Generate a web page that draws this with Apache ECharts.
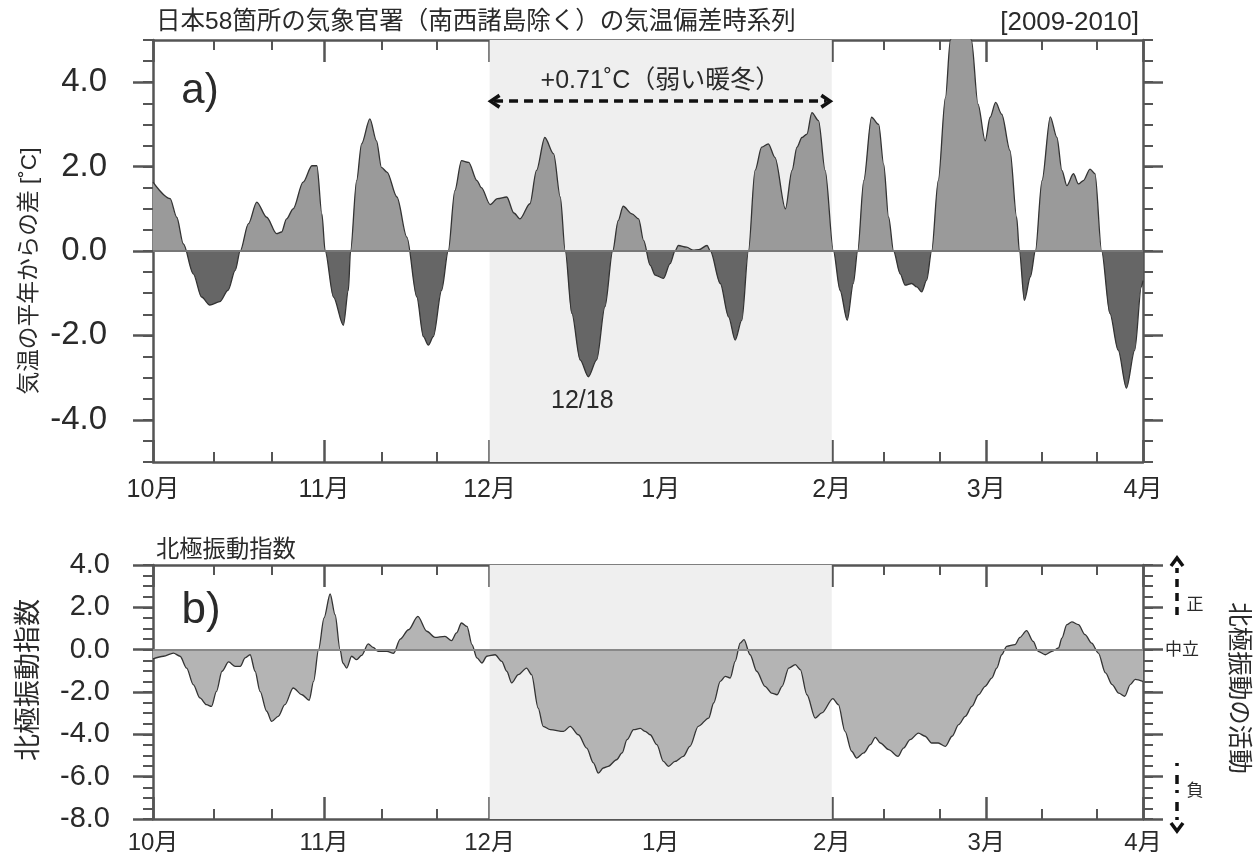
<!DOCTYPE html>
<html><head><meta charset="utf-8">
<script src="https://cdn.jsdelivr.net/npm/echarts@6/dist/echarts.min.js"></script>
<style>html,body{margin:0;padding:0;background:#fff}#c{width:1258px;height:861px}</style>
</head><body><div id="c"></div>
<script>
// ---- axis labels / ticks ----
const monthLabels = ['10月','11月','12月','1月','2月','3月','4月'];
const monthTicks  = [0, 31, 61, 92, 123, 151, 179.4];           // day index from Oct 1
const minorTicks  = [11, 21.5, 41.5, 51.5, 72, 82.5, 103, 113, 132.5, 142.5, 161, 171];
const tempTicks   = [-4, -2, 0, 2, 4];
const aoTicks     = [-8, -6, -4, -2, 0, 2, 4];

// ---- a) temperature anomaly (day, °C) ----
const tempDays = [0,3.1,4.3,5.5,7.3,8.8,10.3,12.1,13.6,14.9,15.8,17.3,18.8,20.6,22.4,23.3,24.2,25.4,27.2,28.8,29.7,30.6,31.2,32.7,34.5,35.4,35.8,36.9,37.8,39.3,40.5,41.4,42.4,44.2,46.0,47.8,49.0,49.9,50.8,52.3,53.5,54.7,55.9,57.2,58.7,59.5,61.1,62.4,64.1,65.4,66.5,68.3,69.5,71.0,72.6,73.8,74.7,75.9,77.4,78.9,80.4,81.9,83.3,84.3,85.2,86.8,88.0,88.9,90.1,91.0,92.5,93.7,94.6,95.2,96.7,97.9,98.9,100.4,101.0,102.8,104.3,105.5,106.7,107.9,109.1,110.3,111.5,112.7,114.6,115.8,116.7,117.6,118.5,119.4,120.6,121.8,123.3,124.5,125.8,126.9,127.7,128.8,130.2,131.5,132.4,133.3,134.2,135.4,136.3,137.5,138.4,139.3,140.2,141.1,142.3,143.6,144.5,145.8,147.2,148.3,149.5,150.8,151.7,152.7,153.8,155.3,156.5,157.0,157.9,159.0,159.9,161.1,162.6,163.8,164.7,165.6,166.8,167.7,168.6,169.8,170.7,171.9,173.4,174.9,176.4,177.9,179.1,179.4];
const tempVals = [1.63,1.24,0.8,0.17,-0.54,-1.09,-1.28,-1.2,-0.93,-0.46,0,0.65,1.16,0.8,0.41,0.45,0.76,1.0,1.63,2.02,2.02,0.88,0,-1.09,-1.76,-0.93,0,1.67,2.54,3.13,2.61,1.98,1.87,1.28,0.33,-1.09,-2.03,-2.23,-2.03,-0.93,0,1.43,2.14,2.1,1.67,1.5,1.1,1.24,1.28,0.9,0.76,1.12,1.91,2.69,2.3,1.28,0,-1.48,-2.58,-2.98,-2.58,-1.32,0,0.72,1.06,0.88,0.76,0.25,-0.34,-0.57,-0.65,-0.3,0,0.13,0.09,0.02,0.03,0.13,0,-0.77,-1.56,-2.11,-1.64,0,1.91,2.46,2.54,2.22,1.0,1.91,2.46,2.69,2.77,3.28,3.09,1.91,0,-0.93,-1.64,-0.77,0,1.67,3.17,3.0,2.06,0.8,0,-0.54,-0.81,-0.77,-0.85,-0.97,-0.69,0,1.67,3.64,5.0,5.8,5.8,5.0,3.48,2.61,3.17,3.52,3.24,2.38,0.8,0,-1.17,-0.61,0,1.67,3.18,2.69,1.91,1.55,1.83,1.59,1.67,1.94,1.83,0,-1.48,-2.35,-3.25,-2.35,-0.85,-0.7];

// ---- b) Arctic Oscillation index (day, index) ----
const aoDays = [0,1.9,3.7,4.9,6.1,7.3,8.5,9.7,10.6,11.5,12.5,13.7,14.9,15.8,16.7,17.6,18.5,19.4,20.6,21.5,22.7,23.9,25.4,27.0,28.3,29.1,30.0,31.0,32.1,33.0,33.9,34.4,35.1,36.0,36.9,37.8,39.0,39.9,40.8,42.4,43.6,44.8,46.3,48.0,49.6,51.1,52.9,54.1,55.0,55.9,56.9,57.8,58.7,59.6,60.5,62.0,63.2,64.1,65.0,66.2,67.7,68.6,69.8,70.7,72.0,74.4,75.6,77.1,78.6,79.8,80.7,81.6,82.5,84.0,85.0,85.9,87.1,88.3,89.2,90.1,91.3,92.5,93.4,94.6,96.1,97.3,98.8,100.7,101.6,102.8,103.7,104.6,105.5,106.4,107.1,108.2,109.4,110.9,112.1,113.1,114.0,115.2,116.4,117.3,118.5,120.0,121.2,123.2,124.2,125.4,126.6,127.5,128.8,130.0,130.9,131.8,133.3,135.0,136.0,137.2,138.7,139.9,141.1,142.3,143.6,144.8,146.0,147.2,148.4,149.6,150.8,152.0,152.9,153.8,154.7,156.2,157.1,158.3,159.5,160.4,161.7,162.9,164.1,164.7,165.6,166.5,167.7,168.9,170.1,171.3,172.6,173.8,175.0,176.1,177.1,178.0,179.4];
const aoVals = [-0.43,-0.31,-0.16,-0.31,-0.87,-1.65,-2.28,-2.6,-2.68,-1.97,-1.02,-0.58,-0.79,-0.79,-0.39,-0.24,-1.02,-1.97,-2.91,-3.39,-3.15,-2.6,-1.81,-2.13,-2.39,-1.5,0,1.5,2.63,1.65,0,-0.63,-0.87,-0.31,-0.47,-0.27,0.27,0.11,-0.08,-0.08,-0.17,0.5,0.94,1.57,0.87,0.58,0.63,0.43,0.79,1.26,1.1,0.24,-0.39,-0.63,-0.31,-0.24,-0.55,-1.02,-1.57,-1.18,-0.87,-1.18,-2.76,-3.62,-3.78,-3.86,-3.62,-4.02,-4.65,-5.35,-5.83,-5.59,-5.51,-5.2,-4.88,-4.25,-3.78,-3.72,-3.86,-4.02,-4.49,-5.28,-5.51,-5.28,-5.04,-4.57,-3.62,-3.23,-2.52,-1.5,-1.26,-1.34,-0.55,0.31,0.47,-0.24,-1.02,-1.73,-2.05,-2.13,-1.73,-0.87,-0.71,-0.94,-2.13,-3.23,-2.99,-2.31,-2.6,-3.86,-4.8,-5.12,-4.88,-4.49,-4.14,-4.41,-4.72,-5.04,-4.65,-4.25,-3.94,-4.09,-4.41,-4.41,-4.57,-4.09,-3.54,-3.15,-2.68,-2.13,-1.73,-1.34,-0.87,-0.24,0.16,0.24,0.58,0.9,0.39,-0.08,-0.24,-0.08,0.08,0.55,1.18,1.31,1.18,0.71,0.31,-0.16,-1.1,-1.65,-2.05,-2.2,-1.65,-1.4,-1.5];

const winterStart = 61, winterEnd = 123;   // Dec 1 – Feb 1

const FONT = "'Liberation Sans','Noto Sans CJK JP',sans-serif";
const AX = '#555', TXT = '#2a2a2a';
const xMax = 179.4;
const grids = [
  {left:153, right:115, top:40, height:422},
  {left:153, right:115, top:565, height:254}
];

function zip(a,b){ return a.map((d,i)=>[d,b[i]]); }
function monthFmt(v){
  let best=0; monthTicks.forEach((t,i)=>{ if(Math.abs(t-v)<Math.abs(monthTicks[best]-v)) best=i; });
  return monthLabels[best];
}
function xAxesFor(g, labelMargin, fs){
  const base = {type:'value', gridIndex:g, min:0, max:xMax, splitLine:{show:false}};
  return [
    Object.assign({}, base, {position:'bottom',
      axisLine:{show:true,onZero:false,lineStyle:{color:AX,width:2.5}},
      axisTick:{show:true,inside:true,length:22,customValues:monthTicks,lineStyle:{color:AX,width:2.5}},
      axisLabel:{show:true,customValues:monthTicks,formatter:monthFmt,margin:labelMargin,fontSize:fs,color:TXT,fontFamily:FONT}}),
    Object.assign({}, base, {position:'top',
      axisLine:{show:true,onZero:false,lineStyle:{color:AX,width:2.5}},
      axisTick:{show:true,inside:true,length:22,customValues:monthTicks,lineStyle:{color:AX,width:2.5}},
      axisLabel:{show:false}}),
    Object.assign({}, base, {position:'bottom',
      axisLine:{show:false,onZero:false},
      axisTick:{show:true,inside:true,length:10,customValues:minorTicks,lineStyle:{color:AX,width:2}},
      axisLabel:{show:false}}),
    Object.assign({}, base, {position:'top',
      axisLine:{show:false,onZero:false},
      axisTick:{show:true,inside:true,length:10,customValues:minorTicks,lineStyle:{color:AX,width:2}},
      axisLabel:{show:false}})
  ];
}
function yAxesFor(g, min, max, ticks, fs, margin){
  const base = {type:'value', gridIndex:g, min:min, max:max, splitLine:{show:false}};
  return [
    Object.assign({}, base, {position:'left',
      axisLine:{show:true,onZero:false,lineStyle:{color:AX,width:2.5}},
      axisTick:{show:true,inside:false,length:20,customValues:ticks,lineStyle:{color:AX,width:2.5}},
      axisLabel:{show:true,customValues:ticks,formatter:v=>v.toFixed(1),margin:margin,fontSize:fs,color:TXT,fontFamily:FONT}}),
    Object.assign({}, base, {position:'left', interval:0.5,
      axisLine:{show:false,onZero:false},
      axisTick:{show:true,inside:false,length:10,lineStyle:{color:AX,width:2}},
      axisLabel:{show:false}}),
    Object.assign({}, base, {position:'right',
      axisLine:{show:true,onZero:false,lineStyle:{color:AX,width:2.5}},
      axisTick:{show:true,inside:false,length:20,customValues:ticks,lineStyle:{color:AX,width:2.5}},
      axisLabel:{show:false}}),
    Object.assign({}, base, {position:'right', interval:0.5,
      axisLine:{show:false,onZero:false},
      axisTick:{show:true,inside:false,length:10,lineStyle:{color:AX,width:2}},
      axisLabel:{show:false}})
  ];
}

const chevron = 'path://M0,11 L7,0 L14,11 L11,13 L7,6 L3,13 Z';
const txt = (t, x, y, fs, extra) => Object.assign({type:'text', x:x, y:y, silent:true,
  style:{text:t, fontSize:fs, fontFamily:FONT, fill:TXT, align:'center', verticalAlign:'middle'}}, extra||{});

const option = {
  animation:false,
  backgroundColor:'#fff',
  title:[
    {text:'日本58箇所の気象官署（南西諸島除く）の気温偏差時系列', left:151, top:5,
      textStyle:{fontSize:24.5,fontWeight:'normal',color:TXT,fontFamily:FONT}},
    {text:'[2009-2010]', right:114, top:5, textStyle:{fontSize:26,fontWeight:'normal',color:TXT,fontFamily:FONT}},
    {text:'北極振動指数', left:151, top:534, textStyle:{fontSize:23.3,fontWeight:'normal',color:TXT,fontFamily:FONT}}
  ],
  grid:grids,
  xAxis:[...xAxesFor(0,16,25), ...xAxesFor(1,12,24)],
  yAxis:[...yAxesFor(0,-5,5,tempTicks,33,46), ...yAxesFor(1,-8,4,aoTicks,29,43)],
  visualMap:{show:false, type:'piecewise', seriesIndex:0, dimension:1,
    pieces:[{gt:0,lte:1000,color:'#9a9a9a'},{gt:-1000,lte:0,color:'#666666'}]},
  series:[
    {type:'line', name:'気温偏差', xAxisIndex:0, yAxisIndex:0, data:zip(tempDays,tempVals),
      symbol:'none', smooth:0.3, smoothMonotone:'x', z:3, silent:true,
      lineStyle:{color:'#333',width:1.3}, areaStyle:{opacity:1},
      markArea:{silent:true, itemStyle:{color:'#efefef'}, data:[[{xAxis:winterStart},{xAxis:winterEnd}]]},
      markLine:{silent:true, symbol:['none','none'], label:{show:false}, animation:false,
        data:[
          {yAxis:0, lineStyle:{color:'#777',width:2,type:'solid'}},
          [{coord:[61.8,3.55], symbol:chevron, symbolSize:[15,13],
             lineStyle:{color:'#111',width:3.5,type:[9,6]},
             label:{show:true, position:'insideMiddleTop', distance:8, formatter:'+0.71˚C（弱い暖冬）',
               fontSize:25, color:TXT, fontFamily:FONT}},
           {coord:[122.1,3.55], symbol:chevron, symbolSize:[15,13]}]
        ]},
      markPoint:{silent:true, symbol:'circle', symbolSize:1, itemStyle:{color:'rgba(0,0,0,0)'},
        label:{show:true, position:'inside', fontSize:25, color:TXT, fontFamily:FONT, formatter:'12/18'},
        data:[{coord:[77.8,-3.55]}]}
    },
    {type:'line', name:'北極振動指数', xAxisIndex:4, yAxisIndex:4, data:zip(aoDays,aoVals),
      symbol:'none', smooth:0.3, smoothMonotone:'x', z:3, silent:true,
      lineStyle:{color:'#333',width:1.3}, areaStyle:{color:'#b4b4b4',opacity:1},
      markArea:{silent:true, itemStyle:{color:'#efefef'}, data:[[{xAxis:winterStart},{xAxis:winterEnd}]]},
      markLine:{silent:true, symbol:['none','none'], label:{show:false},
        data:[{yAxis:0, lineStyle:{color:'#888',width:2,type:'solid'}}]}
    }
  ],
  graphic:[
    txt('a)', 200, 91, 42),
    txt('b)', 201, 611, 44),
    txt('気温の平年からの差 [˚C]', 30, 271, 22.7, {rotation:Math.PI/2}),
    txt('北極振動指数', 30, 680, 27, {rotation:Math.PI/2}),
    txt('北極振動の活動', 1238, 688, 24.5, {rotation:-Math.PI/2}),
    txt('正', 1195, 605, 17),
    txt('中立', 1182, 650, 17),
    txt('負', 1195, 791, 17),
    {type:'line', silent:true, shape:{x1:1177,y1:615,x2:1177,y2:568}, style:{stroke:'#111',lineWidth:3.5,lineDash:[8,6]}},
    {type:'polyline', silent:true, shape:{points:[[1171,566],[1177,558],[1183,566]]}, style:{stroke:'#111',lineWidth:3.5,fill:null}},
    {type:'line', silent:true, shape:{x1:1177,y1:763,x2:1177,y2:822}, style:{stroke:'#111',lineWidth:3.5,lineDash:[3,9,9,6]}},
    {type:'polyline', silent:true, shape:{points:[[1171,823],[1177,831],[1183,823]]}, style:{stroke:'#111',lineWidth:3.5,fill:null}}
  ]
};
const chart = echarts.init(document.getElementById('c'), null, {renderer:'canvas'});
chart.setOption(option);
</script></body></html>
